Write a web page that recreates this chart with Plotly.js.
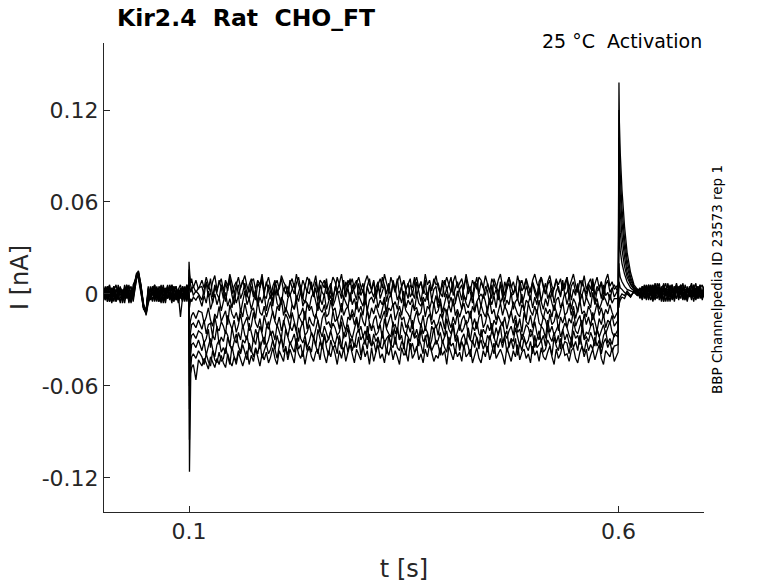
<!DOCTYPE html>
<html>
<head>
<meta charset="utf-8">
<script src="https://cdn.plot.ly/plotly-3.0.1.min.js"></script>
<style>html,body{margin:0;padding:0;background:#fff;}#chart{width:778px;height:583px;}</style>
</head>
<body>
<div id="chart"></div>
<script>
// Time samples [s]
const time_s = [
  0,0.0025,0.005,0.0075,0.01,0.0125,0.015,0.0175,0.02,0.0225,0.025,0.0275,0.03,0.0325,0.035,
  0.039,0.041,0.044,0.047,0.05,
  0.0525,0.055,0.0575,0.06,0.0625,0.065,0.0675,0.07,0.0725,0.075,0.0775,0.08,0.0825,0.085,0.0875,0.09,0.0925,0.095,0.0975,
  0.0995,0.1,0.1005,0.101,0.1015,0.102,0.103,0.105,0.108,0.111,
  0.115,0.1175,0.12,0.1225,0.125,0.1275,0.13,0.1325,0.135,0.1375,
  0.14,0.1425,0.145,0.1475,0.15,0.1525,0.155,0.1575,0.16,0.1625,
  0.165,0.1675,0.17,0.1725,0.175,0.1775,0.18,0.1825,0.185,0.1875,
  0.19,0.1925,0.195,0.1975,0.2,0.2025,0.205,0.2075,0.21,0.2125,
  0.215,0.2175,0.22,0.2225,0.225,0.2275,0.23,0.2325,0.235,0.2375,
  0.24,0.2425,0.245,0.2475,0.25,0.2525,0.255,0.2575,0.26,0.2625,
  0.265,0.2675,0.27,0.2725,0.275,0.2775,0.28,0.2825,0.285,0.2875,
  0.29,0.2925,0.295,0.2975,0.3,0.3025,0.305,0.3075,0.31,0.3125,
  0.315,0.3175,0.32,0.3225,0.325,0.3275,0.33,0.3325,0.335,0.3375,
  0.34,0.3425,0.345,0.3475,0.35,0.3525,0.355,0.3575,0.36,0.3625,
  0.365,0.3675,0.37,0.3725,0.375,0.3775,0.38,0.3825,0.385,0.3875,
  0.39,0.3925,0.395,0.3975,0.4,0.4025,0.405,0.4075,0.41,0.4125,
  0.415,0.4175,0.42,0.4225,0.425,0.4275,0.43,0.4325,0.435,0.4375,
  0.44,0.4425,0.445,0.4475,0.45,0.4525,0.455,0.4575,0.46,0.4625,
  0.465,0.4675,0.47,0.4725,0.475,0.4775,0.48,0.4825,0.485,0.4875,
  0.49,0.4925,0.495,0.4975,0.5,0.5025,0.505,0.5075,0.51,0.5125,
  0.515,0.5175,0.52,0.5225,0.525,0.5275,0.53,0.5325,0.535,0.5375,
  0.54,0.5425,0.545,0.5475,0.55,0.5525,0.555,0.5575,0.56,0.5625,
  0.565,0.5675,0.57,0.5725,0.575,0.5775,0.58,0.5825,0.585,0.5875,
  0.59,0.5925,0.595,
  0.5995,0.6,0.6005,0.601,0.602,0.604,0.607,0.61,0.614,0.618,0.622,
  0.625,0.6275,0.63,0.6325,0.635,0.6375,0.64,0.6425,0.645,0.6475,
  0.65,0.6525,0.655,0.6575,0.66,0.6625,0.665,0.6675,0.67,0.6725,
  0.675,0.6775,0.68,0.6825,0.685,0.6875,0.69,0.6925,0.695,0.6975,0.7
];

// Current per sweep, in pA (1 pA = 0.001 nA)
const sweep_A = [
  3,-2,5,0,-4,2,6,-1,-5,1,4,-3,2,5,-2,
  12,15,6,-8,-12,
  -4,-1,3,5,-2,-5,1,4,0,-3,6,2,-4,-1,3,-2,5,1,-3,
  1,21,16,12,9,7,10,4,9,3,
  9,4,11,6,1,8,12,3,7,10,
  2,9,5,13,7,0,6,11,4,8,
  12,5,1,8,10,3,9,6,13,2,
  7,11,4,-1,6,9,3,12,8,5,
  0,7,10,4,13,6,2,9,5,11,
  8,3,6,12,1,9,7,4,10,-2,
  5,11,8,2,7,13,4,0,9,6,
  10,3,7,11,5,1,8,12,6,3,
  9,0,6,10,4,13,7,2,11,5,
  1,8,12,5,9,3,6,10,-1,7,
  11,4,8,2,13,6,9,3,7,12,
  4,0,9,6,11,5,1,8,12,4,
  7,10,3,13,6,2,9,5,11,0,
  8,4,12,7,1,10,6,3,9,13,
  5,-1,7,11,4,8,2,12,6,9,
  3,10,5,1,9,13,7,4,11,6,
  0,8,12,5,3,9,6,10,2,7,
  11,4,8,13,6,1,9,5,12,3,
  7,10,2,6,11,4,8,0,9,13,
  5,8,3,
  6,-2,-9,-6,-4,-2,-3,1,-2,2,-1,
  4,-1,6,2,-3,5,0,7,3,-2,4,6,-1,2,5,-3,3,7,0,4,-2,6,1,3,-1,5,2,-3,4,6,0
];
const sweep_B = [
  -3,4,0,-5,2,5,-1,-4,3,1,-2,6,-3,0,4,
  11,14,4,-7,-11,
  2,-3,5,-1,-5,3,0,6,-2,4,-4,1,5,-3,2,-1,-5,3,0,
  -1,16,12,8,6,5,3,5,1,4,
  5,-1,8,3,10,-2,6,1,9,4,
  -3,7,2,11,0,5,8,-1,4,9,
  3,-2,6,10,1,-4,7,4,11,0,
  8,2,-3,5,9,-1,4,10,2,6,
  -2,9,4,0,7,11,3,-3,6,1,
  10,5,-1,8,2,-4,6,9,0,4,
  7,-2,3,11,5,1,-3,8,4,10,
  0,6,9,-1,3,7,-4,5,10,2,
  8,-3,4,1,11,6,0,7,-2,9,
  3,10,-1,5,8,2,-3,6,4,11,
  -1,4,8,0,9,-4,5,2,10,6,
  7,1,-2,9,3,6,11,-1,4,8,
  2,-4,6,10,0,5,-2,8,3,11,
  9,4,-1,7,2,-3,10,5,1,6,
  -2,8,3,11,6,0,4,-4,9,2,
  5,10,-1,3,7,1,-3,8,11,4,
  0,6,9,-2,4,10,2,-1,7,3,
  11,-3,5,8,1,6,-2,9,4,0,
  7,3,10,-1,5,2,8,-4,6,9,
  1,4,-2,
  3,-1,-6,-4,-2,0,-1,2,-1,1,3,
  -2,5,1,-4,6,0,3,-1,7,2,-3,4,1,6,-2,3,0,5,-4,2,7,-1,4,1,-3,6,2,0,5,-2,3
];
const sweep_C = [
  5,-3,1,4,-6,0,3,-2,5,-4,2,-1,6,-5,1,
  13,12,5,-9,-13,
  -5,3,-1,6,-3,0,4,-6,2,5,-2,-4,3,1,-5,4,-1,2,6,
  2,11,7,4,3,1,4,-1,2,0,
  -4,3,7,-2,1,-6,5,0,-3,6,
  2,-5,4,8,-1,-7,3,6,-3,1,
  7,0,-4,5,-2,3,-6,4,9,-1,
  -3,6,1,-5,8,2,-2,-7,4,0,
  5,-1,3,7,-4,1,6,-3,-6,2,
  0,8,-2,4,-5,6,1,-1,7,-4,
  3,-6,5,0,2,-3,9,-2,4,-5,
  6,1,-4,7,-1,3,-7,5,0,2,
  -2,4,8,-3,1,6,-5,2,-1,7,
  4,-4,0,5,-6,3,7,-2,1,-3,
  8,2,-5,4,0,-1,6,-4,3,5,
  -6,1,7,-2,4,-3,2,8,-5,0,
  3,6,-1,-4,5,1,-6,4,7,-2,
  0,-3,5,2,-7,6,-1,3,-4,8,
  2,-5,4,7,-1,0,5,-3,6,-6,
  -2,5,1,-4,8,3,-1,6,-5,2,
  7,-3,0,4,-6,2,5,-2,9,-1,
  1,6,-4,3,-1,7,-5,0,4,-3,
  5,-2,8,-6,2,4,-3,6,-1,1,
  -4,3,6,
  1,0,8,6,4,3,1,0,-2,2,0,
  3,-4,1,5,-2,6,0,-3,4,2,-5,3,7,-1,1,-4,5,2,-2,6,-3,0,4,-1,3,-5,2,5,-2,1,4
];
const sweep_D = [
  0,4,-5,2,-2,5,-4,1,3,-6,0,4,-3,2,-1,
  12,13,3,-8,-12,
  3,-2,5,-4,0,2,-6,4,-1,1,5,-3,-5,3,0,-15,-2,4,-1,
  -1,6,-9,-6,-4,-3,-5,-2,-4,-1,
  -8,-1,-6,2,-10,-4,0,-7,-2,-11,
  -5,1,-8,-3,-9,0,-6,-1,-12,-4,
  2,-7,-3,-10,-5,1,-8,-2,-6,0,
  -11,-4,-1,-8,3,-6,-9,-2,-5,-12,
  -3,0,-7,-10,-1,-5,2,-8,-4,-6,
  -9,-2,1,-6,-11,-3,-7,0,-10,-5,
  -1,-8,-4,2,-6,-12,-2,-5,-9,1,
  -7,-3,-10,-1,-5,-8,0,-11,-4,-2,
  -6,1,-9,-4,-7,-2,-12,-3,0,-8,
  -5,-10,-1,-6,2,-9,-4,-7,-3,-11,
  0,-6,-8,-2,-5,1,-10,-4,-7,-1,
  -9,-3,-12,-5,0,-7,-2,-8,-6,2,
  -4,-10,-1,-6,-9,-3,1,-11,-5,-2,
  -8,0,-5,-12,-3,-7,-1,-9,2,-6,
  -2,-9,-4,-7,1,-10,-5,-3,-8,0,
  -11,-4,-6,-1,-9,-2,-7,3,-5,-10,
  -3,-8,0,-6,-11,-4,-2,-9,-5,1,
  -7,-1,-10,-3,-6,-12,-4,0,-8,-2,
  -5,-9,1,-7,-3,-10,-6,-1,-4,-8,
  0,-6,-3,
  -3,3,20,15,11,8,5,3,2,1,-1,
  1,-3,5,2,-1,6,-4,0,3,7,-2,4,-5,1,2,6,-3,3,0,5,-1,-4,4,2,-2,6,1,-3,3,0,5
];
const sweep_E = [
  -2,3,-5,1,4,-1,-4,6,0,-3,2,5,-6,1,3,
  14,10,1,-9,-11,
  1,-4,3,6,-2,0,-5,2,4,-3,1,-6,3,5,-1,2,-4,0,6,
  1,-10,-30,-22,-18,-15,-14,-12,-16,-11,
  -12,-19,-15,-9,-17,-21,-13,-16,-8,-18,
  -14,-11,-20,-7,-13,-16,-12,-18,-10,-15,
  -6,-13,-17,-11,-9,-16,-4,-12,-14,-8,
  -15,-10,-5,-13,-17,-8,-11,-3,-14,-9,
  -12,-16,-7,-10,-4,-15,-13,-9,-17,-6,
  -11,-8,-14,-16,-5,-10,-12,-7,-15,-13,
  -4,-11,-9,-17,-13,-6,-14,-10,-8,-16,
  -10,-15,-5,-12,-8,-14,-3,-11,-16,-9,
  -13,-7,-12,-16,-10,-4,-15,-9,-11,-6,
  -17,-12,-8,-14,-5,-11,-13,-16,-7,-10,
  -9,-14,-12,-4,-15,-8,-10,-17,-6,-13,
  -11,-5,-16,-9,-13,-7,-12,-3,-14,-10,
  -15,-10,-6,-13,-11,-16,-8,-12,-5,-14,
  -7,-12,-15,-9,-4,-13,-10,-17,-11,-6,
  -14,-8,-11,-16,-12,-5,-9,-13,-15,-7,
  -10,-17,-6,-11,-14,-8,-13,-4,-12,-16,
  -9,-13,-10,-15,-7,-12,-16,-11,-5,-14,
  -12,-6,-14,-8,-16,-10,-4,-13,-11,-15,
  -8,-11,-17,-12,-6,-14,-9,-15,-10,-13,
  -7,-12,-16,
  -11,5,45,36,28,20,13,8,4,2,1,
  -2,4,1,-3,6,0,-5,3,2,-1,5,-4,1,7,-2,3,0,-3,4,6,-1,2,-5,3,1,5,-2,0,4,-3,2
];
const sweep_F = [
  4,-1,2,-5,0,5,-3,1,-6,3,-2,4,0,-4,6,
  12,14,5,-7,-13,
  -3,5,0,-2,4,-5,1,3,-4,6,-1,-3,2,5,-6,0,3,-2,4,
  -1,-12,-45,-33,-26,-22,-20,-19,-22,-17,
  -23,-17,-26,-20,-19,-28,-15,-22,-24,-18,
  -21,-26,-14,-19,-23,-17,-25,-20,-13,-22,
  -18,-15,-24,-21,-12,-19,-22,-16,-25,-14,
  -20,-23,-17,-11,-18,-21,-15,-24,-19,-13,
  -16,-22,-12,-19,-24,-14,-17,-20,-11,-23,
  -15,-19,-21,-13,-17,-25,-16,-12,-20,-18,
  -22,-11,-18,-16,-23,-14,-20,-24,-15,-17,
  -13,-20,-15,-22,-12,-18,-21,-10,-19,-24,
  -17,-14,-23,-19,-16,-11,-22,-18,-13,-21,
  -20,-25,-12,-17,-15,-22,-19,-14,-23,-16,
  -11,-18,-21,-14,-24,-16,-13,-20,-17,-22,
  -19,-13,-16,-23,-10,-18,-22,-15,-20,-12,
  -24,-17,-14,-20,-18,-11,-21,-16,-23,-15,
  -13,-22,-19,-12,-16,-24,-17,-20,-14,-18,
  -21,-15,-23,-17,-11,-19,-14,-22,-16,-25,
  -12,-18,-20,-14,-22,-16,-10,-19,-21,-15,
  -17,-23,-13,-20,-18,-12,-24,-15,-19,-14,
  -22,-16,-19,-11,-21,-17,-14,-23,-13,-20,
  -15,-21,-12,-18,-24,-16,-20,-13,-22,-17,
  -19,-14,-21,
  -17,7,65,52,40,29,18,11,6,3,1,
  3,-2,0,5,-4,2,6,-1,-3,4,1,-5,3,0,6,-2,2,5,-3,1,4,-1,-4,3,7,0,-2,5,1,-3,2
];
const sweep_G = [
  -4,2,5,-2,-5,3,0,-3,4,1,-6,2,5,-1,-3,
  10,13,2,-10,-12,
  4,-1,-5,3,1,-3,5,0,-6,2,4,-2,0,-4,3,6,-1,-3,2,
  0,-15,-60,-44,-35,-30,-27,-26,-29,-24,
  -26,-32,-29,-23,-35,-27,-30,-21,-33,-28,
  -31,-24,-27,-34,-22,-29,-32,-25,-30,-20,
  -27,-30,-19,-25,-31,-23,-28,-21,-26,-33,
  -22,-18,-27,-24,-30,-20,-25,-29,-17,-23,
  -28,-21,-24,-19,-26,-31,-22,-18,-27,-25,
  -20,-26,-29,-23,-17,-24,-28,-21,-25,-30,
  -24,-19,-22,-27,-25,-18,-29,-23,-20,-26,
  -29,-23,-17,-25,-21,-28,-24,-30,-19,-22,
  -21,-27,-25,-20,-29,-16,-23,-26,-28,-18,
  -26,-22,-30,-18,-24,-27,-20,-25,-17,-28,
  -23,-29,-19,-26,-22,-25,-31,-21,-24,-20,
  -27,-18,-24,-28,-16,-23,-26,-19,-29,-25,
  -20,-25,-22,-17,-27,-30,-21,-24,-18,-26,
  -28,-23,-26,-20,-24,-19,-29,-22,-27,-21,
  -18,-26,-29,-24,-21,-27,-17,-25,-23,-30,
  -24,-20,-22,-28,-25,-18,-26,-30,-21,-23,
  -29,-17,-25,-21,-27,-23,-20,-28,-24,-19,
  -22,-27,-30,-18,-24,-26,-21,-17,-29,-25,
  -26,-21,-19,-27,-23,-28,-24,-20,-26,-22,
  -18,-25,-28,
  -23,10,85,68,53,38,24,14,7,3,1,
  -1,5,2,-3,4,0,6,-2,3,-4,1,5,-1,2,-5,4,0,6,-2,3,1,-3,5,0,-1,4,-4,2,6,-2,1
];
const sweep_H = [
  1,-4,3,6,-2,0,-5,2,4,-1,-3,5,1,-6,2,
  13,11,3,-9,-12,
  0,3,-4,1,5,-2,-5,4,2,-1,-3,6,0,-4,1,3,-2,5,-5,
  1,-18,-75,-54,-42,-36,-33,-32,-35,-30,
  -37,-31,-40,-34,-29,-36,-41,-33,-30,-38,
  -35,-39,-28,-33,-37,-31,-26,-34,-38,-30,
  -32,-27,-35,-38,-29,-33,-25,-36,-31,-28,
  -34,-30,-24,-31,-36,-27,-33,-29,-35,-23,
  -28,-33,-30,-26,-34,-22,-29,-32,-27,-35,
  -31,-25,-28,-34,-23,-30,-35,-26,-32,-29,
  -24,-30,-33,-27,-31,-36,-25,-28,-22,-32,
  -29,-35,-26,-23,-30,-27,-33,-21,-31,-34,
  -26,-31,-28,-35,-24,-32,-29,-27,-34,-23,
  -33,-22,-30,-27,-36,-25,-28,-31,-24,-29,
  -27,-34,-23,-31,-29,-26,-35,-30,-22,-33,
  -30,-25,-32,-28,-24,-34,-27,-21,-31,-28,
  -35,-29,-26,-33,-22,-30,-32,-25,-29,-36,
  -23,-31,-34,-27,-30,-24,-28,-33,-26,-21,
  -32,-27,-24,-35,-29,-31,-22,-28,-34,-26,
  -28,-33,-30,-23,-26,-35,-29,-24,-31,-27,
  -34,-22,-28,-31,-25,-32,-27,-36,-23,-30,
  -26,-32,-35,-24,-29,-27,-33,-22,-30,-28,
  -31,-25,-29,-34,-23,-28,-35,-27,-24,-32,
  -29,-33,-26,
  -28,12,102,82,65,47,30,18,9,4,2,
  4,-1,2,6,-3,1,-4,5,0,3,-2,7,1,-3,4,2,-5,3,0,6,-1,2,-3,5,1,-2,4,0,6,-4,3
];
const sweep_I = [
  -1,5,-3,0,3,-5,2,4,-2,-4,1,6,-1,3,-5,
  11,12,4,-8,-11,
  5,-2,1,-5,3,0,6,-3,-1,4,2,-4,5,-1,-3,2,4,-5,1,
  -1,-20,-95,-68,-52,-44,-41,-39,-42,-37,
  -41,-46,-39,-44,-47,-37,-43,-45,-38,-44,
  -42,-35,-40,-46,-34,-41,-44,-37,-39,-33,
  -38,-43,-32,-36,-41,-35,-39,-31,-42,-37,
  -33,-39,-36,-30,-37,-42,-34,-28,-38,-35,
  -40,-31,-35,-38,-29,-36,-33,-41,-30,-37,
  -34,-38,-28,-33,-39,-31,-36,-27,-35,-40,
  -30,-36,-33,-39,-27,-34,-37,-31,-38,-29,
  -37,-32,-35,-28,-40,-33,-30,-36,-26,-34,
  -31,-38,-29,-34,-36,-30,-39,-27,-33,-35,
  -28,-35,-37,-31,-33,-40,-29,-36,-32,-38,
  -36,-29,-33,-39,-27,-35,-31,-37,-34,-30,
  -33,-40,-30,-35,-38,-28,-34,-32,-39,-27,
  -37,-31,-36,-29,-34,-41,-30,-35,-28,-33,
  -30,-36,-32,-38,-27,-33,-39,-31,-35,-29,
  -35,-28,-38,-33,-30,-36,-29,-40,-32,-37,
  -29,-34,-37,-31,-39,-27,-35,-33,-30,-38,
  -36,-30,-33,-40,-28,-34,-37,-29,-35,-31,
  -32,-39,-29,-35,-31,-37,-27,-34,-38,-30,
  -37,-33,-36,-28,-34,-30,-39,-32,-29,-35,
  -31,-38,-34,
  -33,15,120,97,78,56,36,22,11,5,2,
  -3,2,5,-1,3,-4,0,6,1,-2,4,-5,2,3,-1,6,0,-3,5,1,-4,3,2,-2,6,-1,0,4,-3,2,5
];
const sweep_J = [
  2,-4,0,5,-2,3,-5,1,4,-3,6,-1,-4,2,0,
  12,15,6,-6,-14,
  -6,-2,4,0,-3,5,2,-5,1,3,-1,6,-4,0,2,-3,5,-2,1,
  0,-22,-116,-82,-62,-52,-48,-46,-56,-43,
  -47,-42,-45,-49,-41,-44,-48,-42,-46,-40,
  -45,-48,-39,-44,-47,-41,-46,-38,-43,-47,
  -42,-37,-46,-40,-44,-36,-41,-47,-39,-43,
  -38,-45,-41,-35,-42,-46,-37,-40,-44,-34,
  -43,-36,-40,-45,-33,-39,-42,-37,-46,-38,
  -35,-41,-44,-38,-36,-43,-32,-40,-45,-37,
  -41,-34,-39,-46,-37,-42,-35,-44,-38,-33,
  -39,-45,-36,-40,-43,-34,-41,-37,-46,-35,
  -44,-38,-33,-42,-39,-45,-36,-40,-34,-43,
  -37,-41,-46,-35,-40,-38,-44,-32,-42,-39,
  -34,-43,-39,-45,-36,-41,-33,-38,-44,-40,
  -42,-35,-40,-37,-46,-34,-39,-43,-36,-41,
  -38,-44,-33,-41,-39,-36,-45,-40,-35,-42,
  -45,-37,-41,-34,-43,-38,-32,-42,-39,-36,
  -40,-46,-35,-39,-44,-37,-41,-33,-43,-38,
  -36,-42,-39,-45,-34,-40,-37,-44,-35,-41,
  -43,-38,-34,-41,-46,-36,-42,-39,-33,-40,
  -39,-44,-37,-35,-42,-45,-38,-34,-41,-36,
  -45,-40,-36,-43,-38,-33,-42,-46,-37,-39,
  -41,-35,-44,
  -38,20,138,112,92,68,44,27,14,6,3,
  0,4,-3,2,6,-1,3,-4,1,5,-2,0,4,-5,2,6,-1,3,0,-3,5,1,-2,4,-4,2,7,-1,3,0,-2
];

const sweeps = [sweep_A, sweep_B, sweep_C, sweep_D, sweep_E, sweep_F, sweep_G, sweep_H, sweep_I, sweep_J];
sweeps.forEach((s, i) => {
  if (s.length !== time_s.length) throw new Error('sweep ' + i + ' has ' + s.length + ' values, time has ' + time_s.length);
});

const yTickVals = [-0.12, -0.06, 0, 0.06, 0.12];
const yTickText = ['-0.12', '-0.06', '0', '0.06', '0.12'];
const xTickVals = [0.1, 0.6];
const xTickText = ['0.1', '0.6'];

const titleText = 'Kir2.4\u00a0 Rat\u00a0 CHO_FT';
const condText = '25 °C\u00a0 Activation';
const idText = 'BBP Channelpedia ID 23573 rep 1';

const traces = sweeps.map(s => ({
  x: time_s,
  y: s.map(v => v / 1000),
  type: 'scatter',
  mode: 'lines',
  line: {color: '#000000', width: 1.3},
  hoverinfo: 'skip',
  showlegend: false
}));

const axisColor = '#262626';
const FONT = 'DejaVu Sans, Liberation Sans, sans-serif';

const layout = {
  width: 778, height: 583,
  margin: {l: 104, r: 74, t: 43, b: 71, pad: 0},
  paper_bgcolor: '#ffffff',
  plot_bgcolor: '#ffffff',
  font: {family: FONT, color: axisColor},
  showlegend: false,
  hovermode: false,
  title: {
    text: '<b>' + titleText + '</b>',
    font: {family: FONT, size: 23.5, color: '#000000'},
    x: 117 / 778, xref: 'container', xanchor: 'left',
    y: 1 - 18 / 583, yref: 'container', yanchor: 'middle'
  },
  xaxis: {
    range: [0.001, 0.6995],
    tickvals: xTickVals, ticktext: xTickText,
    ticks: 'inside', ticklen: 6, tickwidth: 1, tickcolor: axisColor,
    showline: true, linecolor: axisColor, linewidth: 1,
    showgrid: false, zeroline: false, mirror: false,
    tickfont: {family: FONT, size: 22, color: axisColor},
    title: {text: 't [s]', font: {family: FONT, size: 24, color: axisColor}, standoff: 16},
    automargin: false, fixedrange: true
  },
  yaxis: {
    range: [-0.1422, 0.1637],
    tickvals: yTickVals, ticktext: yTickText,
    ticks: 'inside', ticklen: 6, tickwidth: 1, tickcolor: axisColor,
    showline: true, linecolor: axisColor, linewidth: 1,
    showgrid: false, zeroline: false, mirror: false,
    tickfont: {family: FONT, size: 22, color: axisColor},
    title: {text: 'I [nA]', font: {family: FONT, size: 24, color: axisColor}, standoff: 6},
    automargin: false, fixedrange: true
  },
  annotations: [
    {
      text: condText, xref: 'paper', yref: 'paper',
      x: 1, y: (512 - 41) / 469, xanchor: 'right', yanchor: 'middle',
      showarrow: false, font: {family: FONT, size: 19, color: '#000000'}
    },
    {
      text: idText, xref: 'paper', yref: 'paper',
      x: (717 - 104) / 600, y: (512 - 280) / 469, xanchor: 'center', yanchor: 'middle',
      textangle: -90, showarrow: false,
      font: {family: FONT, size: 13.5, color: '#000000'}
    }
  ]
};

Plotly.newPlot('chart', traces, layout, {displayModeBar: false, staticPlot: true});
</script>
</body>
</html>
